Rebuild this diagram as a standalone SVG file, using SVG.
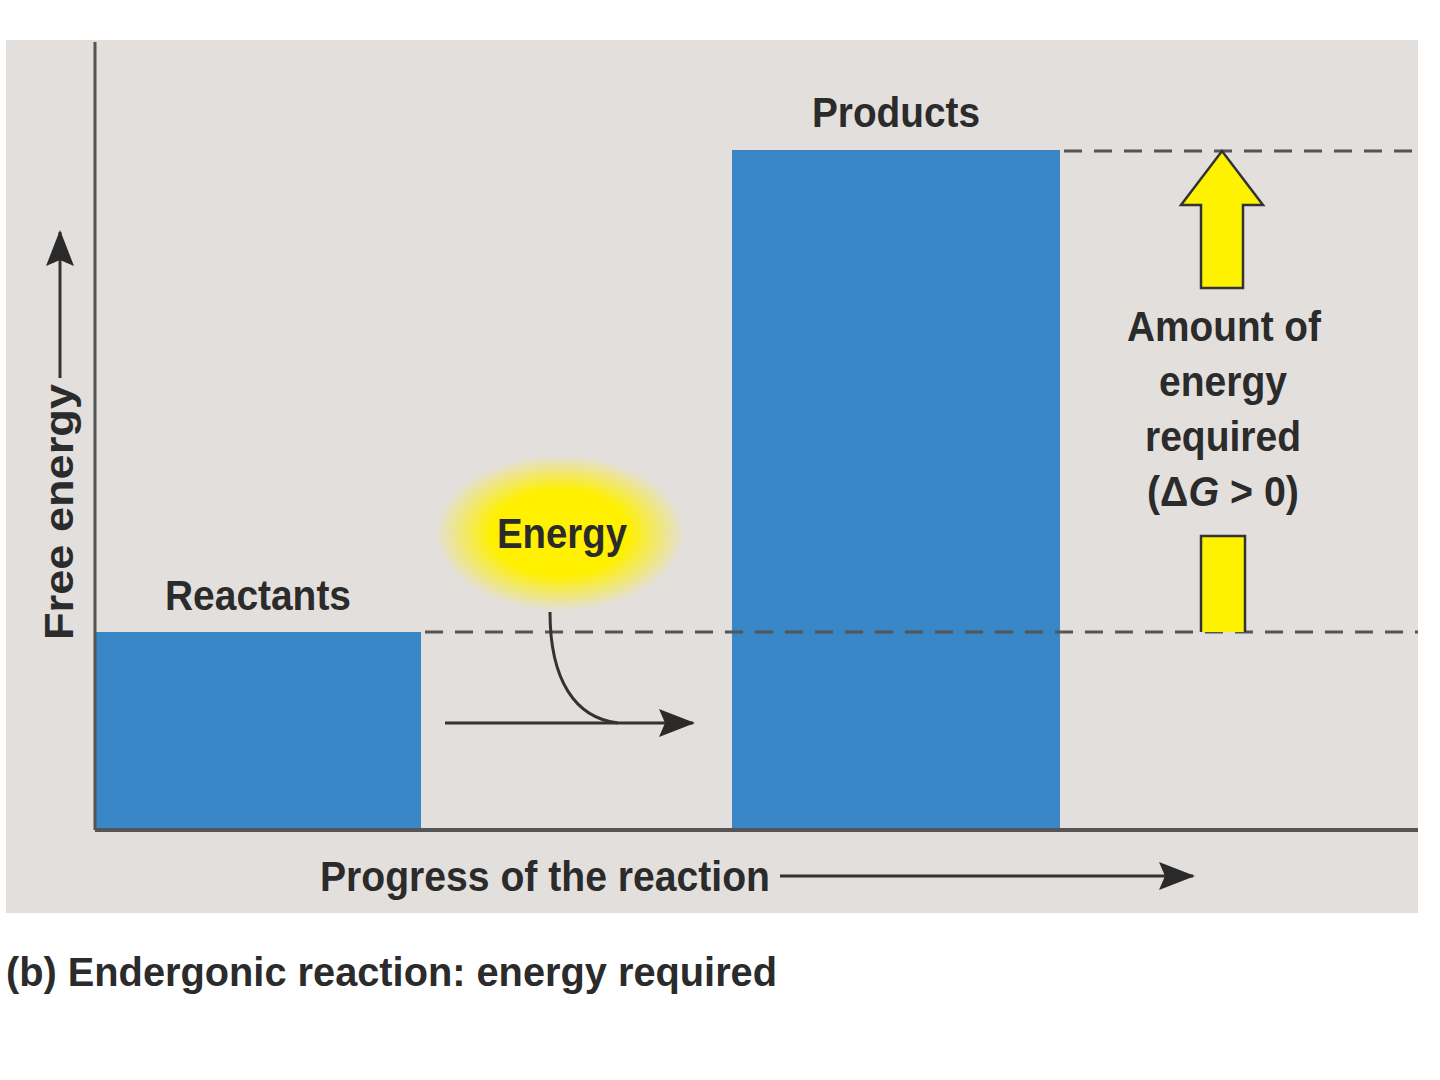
<svg xmlns="http://www.w3.org/2000/svg" width="1440" height="1080" viewBox="0 0 1440 1080">
<defs>
<radialGradient id="glow" cx="0.5" cy="0.5" r="0.5">
<stop offset="0" stop-color="#fff200"/>
<stop offset="0.55" stop-color="#fff000"/>
<stop offset="1" stop-color="#fff000" stop-opacity="0"/>
</radialGradient>
<marker id="ah" viewBox="0 0 36 28" refX="34" refY="14" markerWidth="36" markerHeight="28" markerUnits="userSpaceOnUse" orient="auto">
<path d="M0,0 L36,14 L0,28 L6,14 Z" fill="#2a2a2a"/>
</marker>
</defs>
<style>
.lbl{font-family:"Liberation Sans",Arial,sans-serif;font-weight:bold;fill:#2b2b2b;}
.bar{fill:#3a87c8;}
.dash{stroke:#555;stroke-width:3;stroke-dasharray:18,12;fill:none;}
.ln{stroke:#333;stroke-width:3;fill:none;}
</style>
<rect width="1440" height="1080" fill="#ffffff"/>
<rect x="6" y="40" width="1412" height="873" fill="#e3dfdd"/>

<g id="energy-glow">
<ellipse cx="560" cy="533" rx="125" ry="78" fill="url(#glow)"/>
<text class="lbl" x="562" y="548" font-size="42" text-anchor="middle" textLength="130" lengthAdjust="spacingAndGlyphs">Energy</text>
</g>

<g id="reactants">
<rect class="bar" x="95" y="632" width="326" height="198"/>
<text class="lbl" x="258" y="610" font-size="42" text-anchor="middle" textLength="186" lengthAdjust="spacingAndGlyphs">Reactants</text>
</g>

<g id="products">
<rect class="bar" x="732" y="150" width="328" height="680"/>
<text class="lbl" x="896" y="127" font-size="42" text-anchor="middle" textLength="168" lengthAdjust="spacingAndGlyphs">Products</text>
</g>

<g id="connectors">
<line class="dash" x1="1064" y1="151" x2="1418" y2="151"/>
<line class="dash" x1="425" y1="632" x2="1418" y2="632"/>
<line x1="95" y1="42" x2="95" y2="830" stroke="#555" stroke-width="3"/>
<line x1="95" y1="830" x2="1418" y2="830" stroke="#555" stroke-width="4"/>
<line class="ln" x1="60" y1="378" x2="60" y2="232" marker-end="url(#ah)"/>
<line class="ln" x1="445" y1="723" x2="693" y2="723" marker-end="url(#ah)"/>
<path class="ln" d="M550,612 C550,680 575,718 618,723"/>
<line class="ln" x1="780" y1="876" x2="1193" y2="876" marker-end="url(#ah)"/>
</g>

<g id="delta-arrow">
<path d="M1201,288 L1201,205 L1181,205 L1222,151 L1263,205 L1243,205 L1243,288 Z" fill="#fff200" stroke="#333" stroke-width="2.5" stroke-linejoin="miter"/>
<path d="M1201,632 L1201,536 L1245,536 L1245,632" fill="#fff200" stroke="#333" stroke-width="2.5"/>
<text class="lbl" font-size="42" text-anchor="middle" x="1224" y="341" textLength="194" lengthAdjust="spacingAndGlyphs">Amount of</text>
<text class="lbl" font-size="42" text-anchor="middle" x="1223" y="396" textLength="128" lengthAdjust="spacingAndGlyphs">energy</text>
<text class="lbl" font-size="42" text-anchor="middle" x="1223" y="451" textLength="156" lengthAdjust="spacingAndGlyphs">required</text>
<text class="lbl" font-size="42" text-anchor="middle" x="1223" y="506" textLength="152" lengthAdjust="spacingAndGlyphs">(Δ<tspan font-style="italic">G</tspan> &gt; 0)</text>
</g>

<g id="axis-labels">
<text class="lbl" transform="translate(73,512) rotate(-90)" font-size="40" text-anchor="middle" textLength="256" lengthAdjust="spacingAndGlyphs">Free energy</text>
<text class="lbl" x="545" y="891" font-size="42" text-anchor="middle" textLength="450" lengthAdjust="spacingAndGlyphs">Progress of the reaction</text>
</g>

<g id="caption">
<text class="lbl" x="6" y="986" font-size="40" textLength="771" lengthAdjust="spacingAndGlyphs">(b) Endergonic reaction: energy required</text>
</g>
</svg>
